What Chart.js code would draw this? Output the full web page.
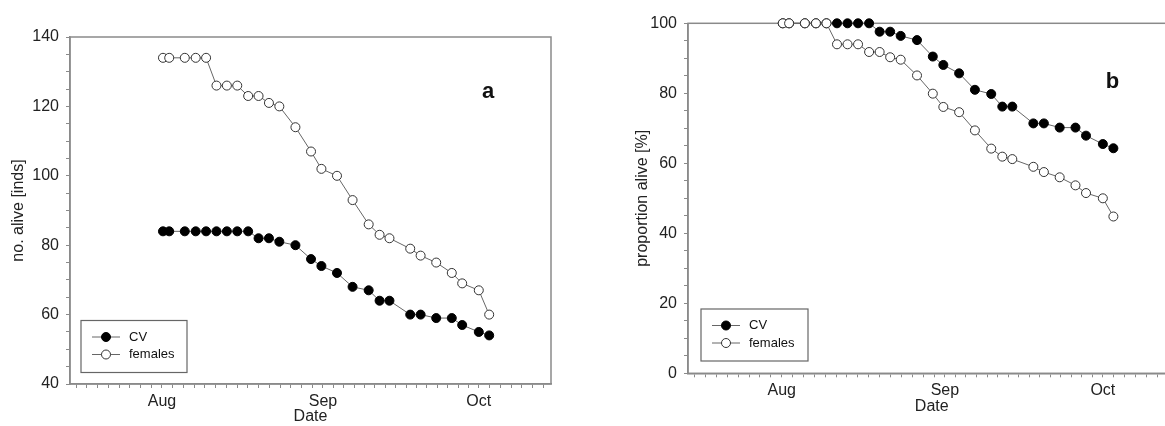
<!doctype html>
<html lang="en">
<head>
<meta charset="utf-8" />
<title>Survival CV vs females</title>
<style>
  html,body{margin:0;padding:0;background:#fff;overflow:hidden}
  body{width:1165px;height:426px;position:relative}
  .panel{position:absolute;top:0}
  #pa{left:0}
  #pb{left:625px}
</style>
<script src="https://cdn.jsdelivr.net/npm/chart.js@4.4.1/dist/chart.umd.min.js"></script>
</head>
<body>
<div class="panel" id="pa"><canvas id="ca" width="565" height="426"></canvas></div>
<div class="panel" id="pb"><canvas id="cb" width="560" height="416"></canvas></div>
<script>
// sampling dates as day of year (Aug 1 = 213)
const sampleDay = [213.2, 214.4, 217.4, 219.5, 221.5, 223.5, 225.5, 227.5, 229.6, 231.6, 233.6, 235.6, 238.7, 241.7,
  243.7, 246.7, 249.7, 252.8, 254.9, 256.8, 260.8, 262.8, 265.8, 268.8, 270.8, 274.0, 276.0];

// panel a: number alive
const cvCount = [84, 84, 84, 84, 84, 84, 84, 84, 84, 82, 82, 81, 80, 76, 74, 72, 68, 67, 64, 64, 60, 60, 59, 59, 57, 55, 54];
const femaleCount = [134, 134, 134, 134, 134, 126, 126, 126, 123, 123, 121, 120, 114, 107, 102, 100, 93, 86, 83, 82, 79, 77, 75, 72, 69, 67, 60];

// panel b: proportion alive (%)
const cvPct = [100, 100, 100, 100, 100, 100, 100, 100, 100, 97.6, 97.6, 96.4, 95.2, 90.5, 88.1, 85.7, 81.0, 79.8, 76.2, 76.2,
  71.4, 71.4, 70.2, 70.2, 67.9, 65.5, 64.3];
const femalePct = [100, 100, 100, 100, 100, 94.0, 94.0, 94.0, 91.8, 91.8, 90.3, 89.6, 85.1, 79.9, 76.1, 74.6, 69.4, 64.2, 61.9,
  61.2, 59.0, 57.5, 56.0, 53.7, 51.5, 50.0, 44.8];

// month starts (day of year) and their labels
const monthStarts = [182, 213, 244, 274, 305];
const monthLabels = ["Jul", "Aug", "Sep", "Oct", "Nov"];
const shownMonths = ["Aug", "Sep", "Oct"];

const FONT = "'Liberation Sans', Arial, sans-serif";
const AXIS = "#8a8a8a";
const TXT = "#222";

const pts = (ys) => sampleDay.map((x, i) => ({ x, y: ys[i] }));

// 15 minor divisions per month, like the original date axis
function dateTicks(scale) {
  const t = [];
  for (let m = 0; m < monthStarts.length - 1; m++) {
    const a = monthStarts[m], b = monthStarts[m + 1];
    for (let k = 0; k < 15; k++) {
      const v = a + k * (b - a) / 15;
      if (v >= scale.min - 1e-6 && v <= scale.max + 1e-6) t.push({ value: v });
    }
  }
  scale.ticks = t;
}

// box around the plot, drawn under the markers
const frame = {
  id: "frame",
  beforeDatasetsDraw(chart) {
    const { ctx, chartArea: c } = chart;
    ctx.save();
    ctx.strokeStyle = AXIS; ctx.lineWidth = 1.5;
    ctx.strokeRect(c.left, c.top, c.right - c.left, c.bottom - c.top);
    ctx.restore();
  }
};

const legendBox = {
  id: "legendBox",
  afterDraw(chart, args, o) {
    const { ctx, chartArea: c } = chart;
    const x = c.left + o.dx, y = c.bottom - o.dy - o.h;
    ctx.save();
    ctx.strokeStyle = "#666"; ctx.lineWidth = 1.2;
    ctx.strokeRect(x, y, o.w, o.h);
    ctx.font = "13px " + FONT; ctx.textBaseline = "middle"; ctx.fillStyle = "#111";
    chart.data.datasets.forEach((ds, i) => {
      const ry = y + 16.5 + i * 17.5;
      ctx.strokeStyle = ds.borderColor; ctx.lineWidth = 1;
      ctx.beginPath(); ctx.moveTo(x + 11, ry); ctx.lineTo(x + 39, ry); ctx.stroke();
      ctx.beginPath(); ctx.arc(x + 25, ry, 4.5, 0, Math.PI * 2);
      ctx.fillStyle = ds.pointBackgroundColor; ctx.fill();
      ctx.strokeStyle = ds.pointBorderColor; ctx.stroke();
      ctx.fillStyle = "#111";
      ctx.fillText(ds.label, x + 48, ry);
    });
    ctx.restore();
  }
};

const panelTag = {
  id: "panelTag",
  afterDraw(chart, args, o) {
    const { ctx, chartArea: c } = chart;
    ctx.save();
    ctx.font = "bold 22px " + FONT; ctx.fillStyle = "#111";
    ctx.textAlign = "center"; ctx.textBaseline = "middle";
    ctx.fillText(o.text, c.right - 63, c.top + o.dy);
    ctx.restore();
  }
};

function makeChart(id, cvData, femData, yMin, yMax, yTitle, opt) {
  return new Chart(document.getElementById(id), {
    type: "scatter",
    data: {
      datasets: [
        { label: "CV", data: pts(cvData), showLine: true, order: 1, clip: false,
          borderColor: "#666", borderWidth: 1, pointRadius: 4.5, pointHoverRadius: 4.5,
          pointBackgroundColor: "#000", pointBorderColor: "#000", pointBorderWidth: 1 },
        { label: "females", data: pts(femData), showLine: true, order: 0, clip: false,
          borderColor: "#666", borderWidth: 1, pointRadius: 4.5, pointHoverRadius: 4.5,
          pointBackgroundColor: "#fff", pointBorderColor: "#333", pointBorderWidth: 1 }
      ]
    },
    options: {
      responsive: false, animation: false, devicePixelRatio: 1,
      layout: { padding: { top: opt.top, right: opt.right, bottom: 0, left: 0 } },
      plugins: {
        legend: { display: false }, tooltip: { enabled: false },
        legendBox: opt.legend, panelTag: opt.tag
      },
      scales: {
        x: {
          type: "linear", min: opt.xMin, max: opt.xMax,
          afterBuildTicks: dateTicks,
          afterFit: (s) => { s.height = opt.xh; },
          border: { color: AXIS, width: 1.5 },
          grid: { drawOnChartArea: false, tickLength: 4, tickColor: AXIS },
          ticks: {
            autoSkip: false, maxRotation: 0, padding: 4, color: TXT,
            font: { family: FONT, size: 16 },
            callback: (v) => {
              const i = monthStarts.indexOf(v);
              return i >= 0 && shownMonths.includes(monthLabels[i]) ? monthLabels[i] : "";
            }
          },
          title: { display: true, text: "Date", color: TXT, font: { family: FONT, size: 16 },
            padding: { top: 0, bottom: opt.titleB } }
        },
        y: {
          min: yMin, max: yMax,
          afterBuildTicks: (s) => { const t = []; for (let v = yMin; v <= yMax; v += 5) t.push({ value: v }); s.ticks = t; },
          afterFit: (s) => { s.width = opt.yw; },
          border: { color: AXIS, width: 1.5 },
          grid: { drawOnChartArea: false, tickLength: 4, tickColor: AXIS },
          ticks: { autoSkip: false, padding: 7, color: TXT, font: { family: FONT, size: 16 },
            callback: (v) => (v % 20 === 0 ? v : "") },
          title: { display: true, text: yTitle, color: TXT, font: { family: FONT, size: 16 },
            padding: { top: opt.titleL, bottom: 0 } }
        }
      }
    },
    plugins: [frame, legendBox, panelTag]
  });
}

makeChart("ca", cvCount, femaleCount, 40, 140, "no. alive [inds]", {
  top: 37, right: 14, xh: 42, yw: 70, titleB: 0, titleL: 9,
  xMin: 195.3, xMax: 287.9,
  legend: { dx: 11, dy: 11.5, w: 106, h: 52 },
  tag: { text: "a", dy: 55 }
});

makeChart("cb", cvPct, femalePct, 0, 100, "proportion alive [%]", {
  top: 23.3, right: 9.5, xh: 42.7, yw: 63, titleB: 0, titleL: 8,
  xMin: 195.2, xMax: 287.8,
  legend: { dx: 13, dy: 12.3, w: 107, h: 52 },
  tag: { text: "b", dy: 59 }
});
</script>
</body>
</html>
